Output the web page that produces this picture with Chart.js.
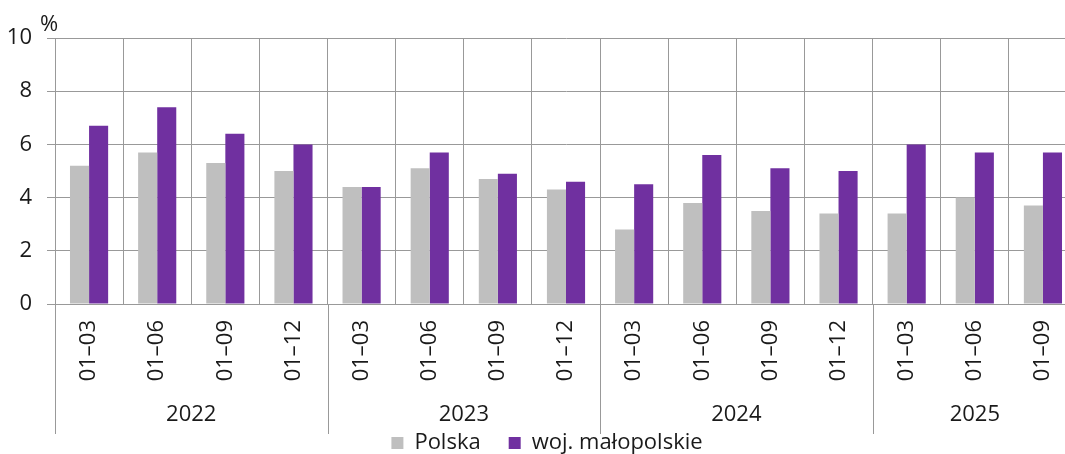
<!DOCTYPE html>
<html><head><meta charset="utf-8">
<script src="https://cdn.jsdelivr.net/npm/chart.js@4.4.1/dist/chart.umd.min.js"></script>
<style>
html,body{margin:0;padding:0;overflow:hidden;background:#fff;width:1065px;height:454px}
#wrap{position:relative;width:1100px;height:464px}
</style>
</head><body><div id="wrap"><canvas id="c"></canvas></div>
<script>
const categories = ['01–03','01–06','01–09','01–12','01–03','01–06','01–09','01–12','01–03','01–06','01–09','01–12','01–03','01–06','01–09'];
const years = ['2022','2023','2024','2025'];
const yearSizes = [4,4,4,3];
const polska = [5.2,5.7,5.3,5.0, 4.4,5.1,4.7,4.3, 2.8,3.8,3.5,3.4, 3.4,4.0,3.7];
const malopolskie = [6.7,7.4,6.4,6.0, 4.4,5.7,4.9,4.6, 4.5,5.6,5.1,5.0, 6.0,5.7,5.7];
const seriesNames = ['Polska','woj. małopolskie'];
const yMin = 0, yMax = 10, yStep = 2;
const unitLabel = '%';

const GRID = '#999999';
const TEXT = '#1a1a1a';
const FONT = '"Open Sans"';
Chart.defaults.font.family = FONT;

// group centers and boundaries derived from the year group sizes
const yearCenters = [];
const yearBounds = [0];
let acc = 0;
yearSizes.forEach(s => { yearCenters.push(acc + (s - 1) / 2); acc += s; yearBounds.push(acc); });

const decor = {
  id: 'decor',
  afterLayout(chart) {
    // center the legend under the same span as the reference
    if (chart.legend) { chart.legend.left += 17; }
  },
  afterDraw(chart) {
    const {ctx, chartArea, scales: {x}} = chart;
    ctx.save();
    ctx.strokeStyle = GRID;
    ctx.lineWidth = 1;
    yearBounds.forEach(b => {
      const px = Math.round(x.getPixelForValue(b - 0.5)) + 0.5;
      ctx.beginPath();
      ctx.moveTo(px, x.top);
      ctx.lineTo(px, x.bottom + 30);
      ctx.stroke();
    });
    ctx.fillStyle = TEXT;
    ctx.font = '22px ' + FONT;
    ctx.textAlign = 'center';
    ctx.textBaseline = 'alphabetic';
    years.forEach((yr, i) => {
      ctx.fillText(yr, x.getPixelForValue(yearCenters[i]), x.bottom + 17);
    });
    ctx.textAlign = 'left';
    ctx.fillText(unitLabel, chartArea.left - 15, chartArea.top - 7);
    ctx.restore();
  }
};

new Chart(document.getElementById('c'), {
  type: 'bar',
  data: {
    labels: categories,
    datasets: [
      {label: seriesNames[0], data: polska, backgroundColor: '#bfbfbf', borderWidth: 0,
       categoryPercentage: 0.56, barPercentage: 1.0},
      {label: seriesNames[1], data: malopolskie, backgroundColor: '#7030a0', borderWidth: 0,
       categoryPercentage: 0.56, barPercentage: 1.0}
    ]
  },
  options: {
    responsive: true,
    maintainAspectRatio: false,
    animation: false,
    layout: {padding: {top: 38, left: 0, right: 23, bottom: 0}},
    plugins: {
      tooltip: {enabled: false},
      legend: {
        position: 'bottom',
        labels: {boxWidth: 12, boxHeight: 12, padding: 28, color: TEXT, font: {size: 22, family: FONT}}
      }
    },
    scales: {
      x: {
        type: 'category',
        position: 'bottom',
        offset: true,
        grid: {display: true, offset: true, color: GRID, lineWidth: 1, drawTicks: false},
        border: {display: true, color: GRID, width: 1},
        ticks: {minRotation: 90, maxRotation: 90, autoSkip: false, padding: 16, color: TEXT, font: {size: 22}},
        afterFit(s) { s.height = 100; }
      },
      y: {
        min: yMin, max: yMax,
        grid: {color: GRID, lineWidth: 1, tickLength: 8},
        border: {display: true, color: GRID, width: 1},
        ticks: {stepSize: yStep, padding: 15, color: TEXT, font: {size: 22}},
        afterFit(s) { s.width = 55; }
      }
    }
  },
  plugins: [decor]
});
</script>
</body></html>
